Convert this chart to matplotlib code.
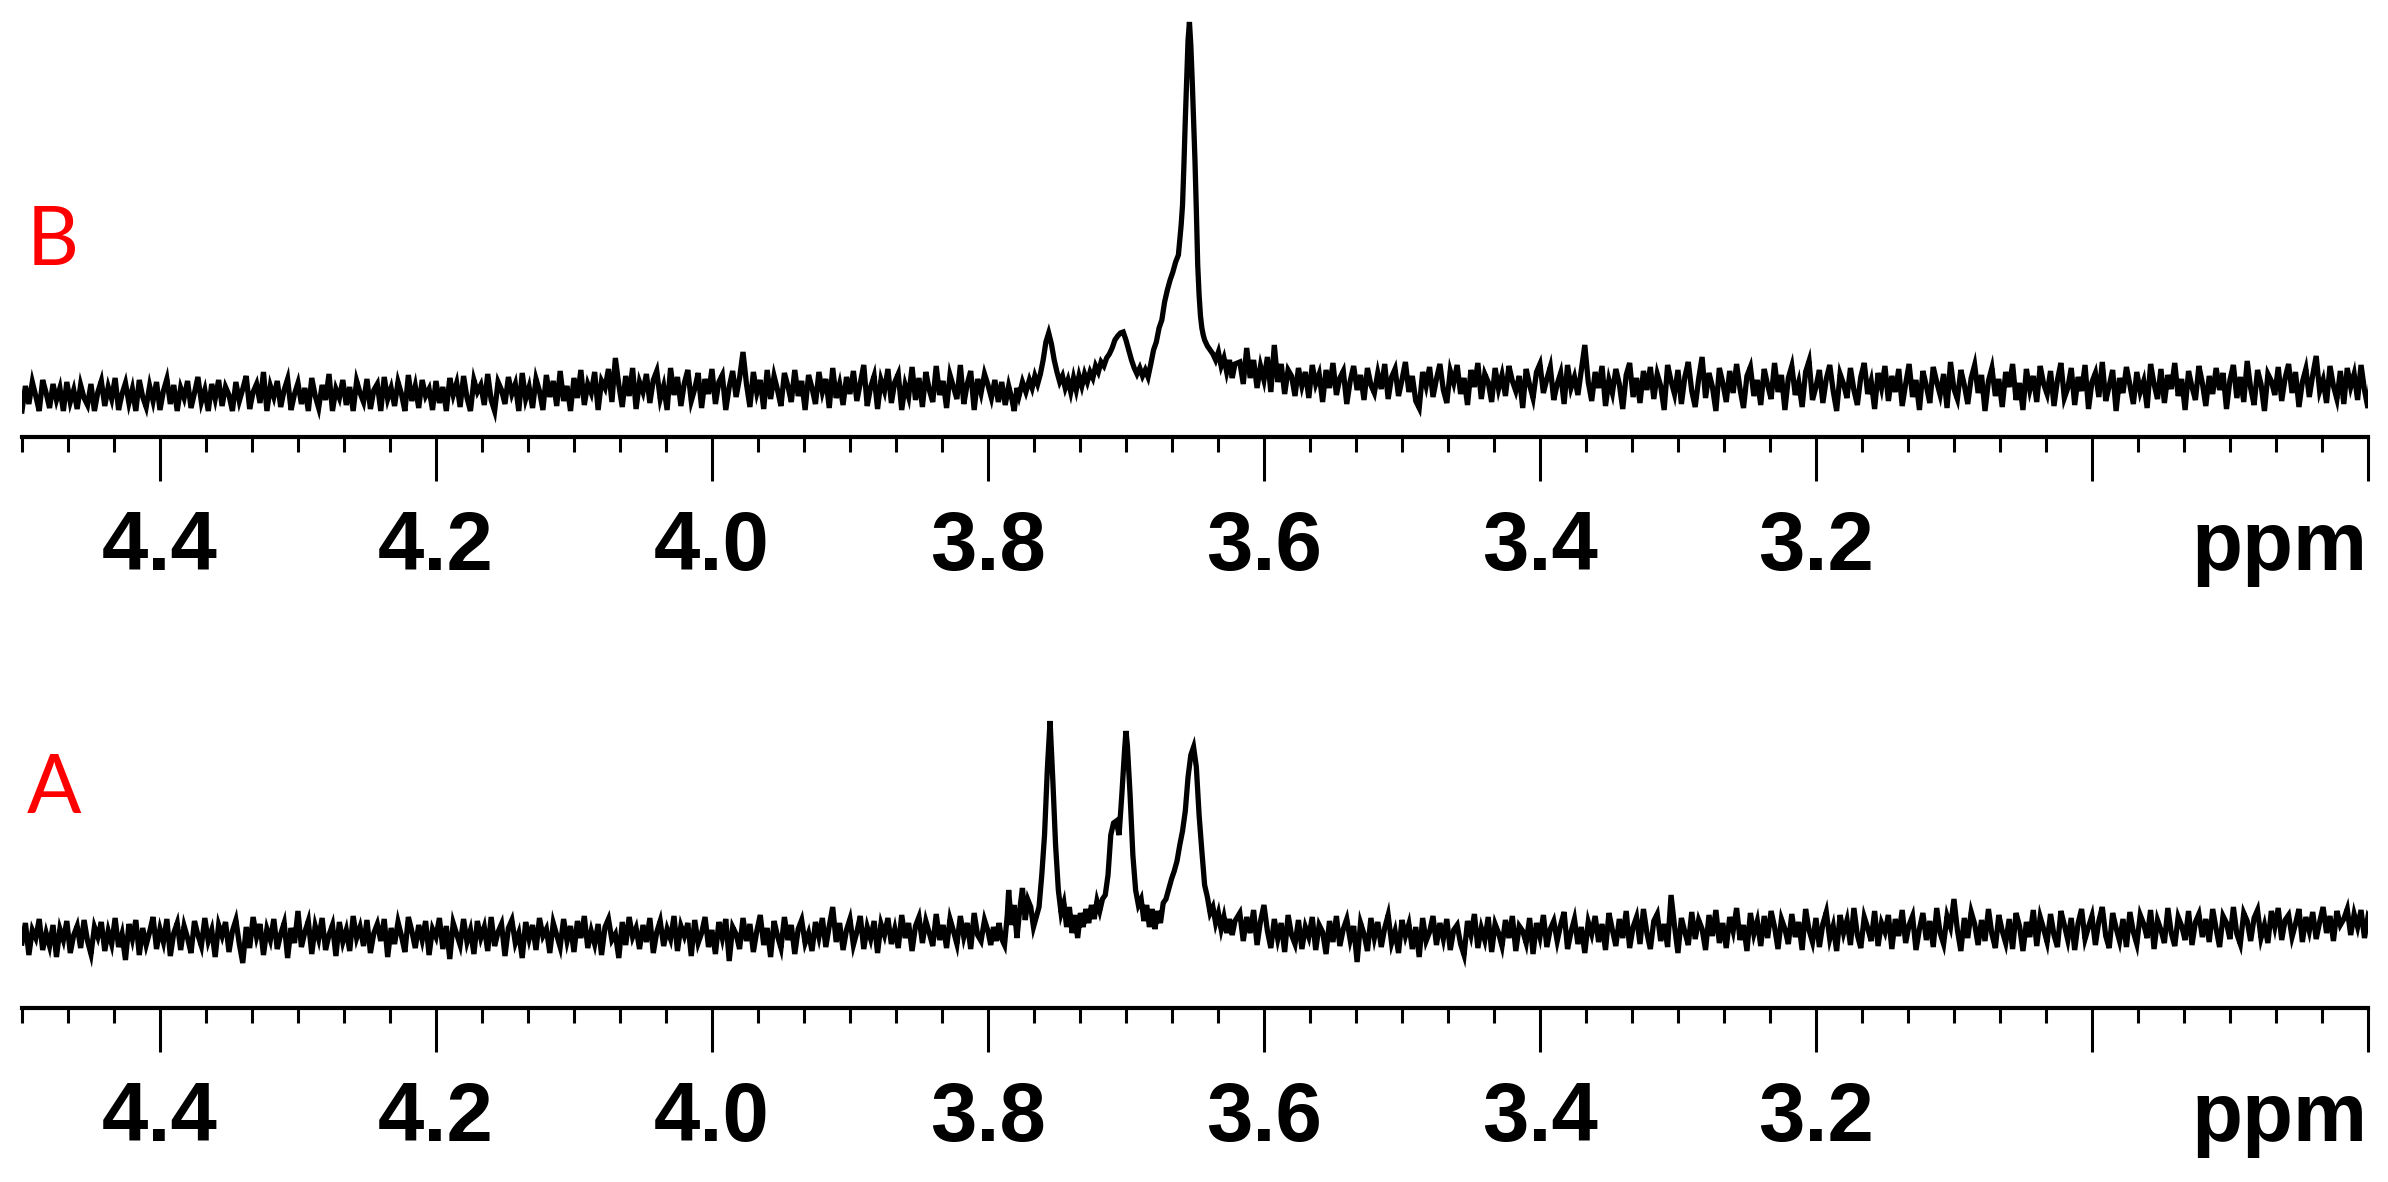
import numpy as np
import matplotlib
matplotlib.use('Agg')
import matplotlib.pyplot as plt

# ---- spectrum B (top), intensity in arbitrary units, baseline ~0 ----
# uniform grid 4.5000 -> 3.8025 ppm, step 0.0025
b_left = [
    -21, 4, -14, 8, -6, -21, 10, -3, -18, 6, -10, 2, -21, 8, -12, 0, -19, 5, -8, -15,
    6, -21, -2, 9, -16, 3, -9, 12, -20, -4, 7, -13, 1, -21, 10, -7, -17, 4, -11, 8,
    -20, -1, 11, -14, 5, -21, 2, -8, 9, -18, -3, 13, -12, 0, -21, 6, -9, 10, -16, 3,
    -5, -21, 8, -11, 1, 14, -19, -2, 6, -13, 18, -21, 4, -7, 9, -17, 0, 11, -20, -4,
    7, -14, 2, -21, 12, -6, -18, 5, -10, 16, -21, 1, -8, 10, -15, 3, -21, 9, -3, -12,
    11, -19, 0, 6, -21, 13, -9, 2, -16, 8, -4, -21, 15, -11, 4, -18, 10, -6, 1, -20,
    9, -13, 3, -21, 12, -5, 7, -17, 14, -8, -21, 10, -2, 5, -15, 16, -10, -21, 8, 0,
    -14, 13, -4, 6, -21, 17, -9, 3, -18, 11, -1, -20, 15, -7, 9, -16, 19, -11, 4, -21,
    12, -8, 20, -15, 6, -3, 18, -20, 9, 2, 21, -12, 32, 5, -17, 14, -6, 22, -19, 8,
    -2, 16, -13, 10, 19, -9, 4, -20, 22, -5, 13, -16, 7, 20, -11, 1, 17, -18, 11, -4,
    21, -14, 8, 15, -20, 3, 19, -7, 12, 38, 6, -17, 18, -3, 10, -19, 20, -9, 14, 0,
    -16, 17, 4, -12, 20, -6, 9, -20, 15, 2, -14, 18, -2, 11, -18, 22, -8, 6, -15, 13,
    -4, 19, -11, 7, 25, -16, 3, 14, -19, 10, -1, 21, -13, 8, 16, -20, 5, -7, 23, -10,
    12, -17, 18, 0, -12, 24, -5, 9, -18, 15, 3, -9, 25, -14, 6, 19, -20, 11, -3, 16,
]
# peak region 3.80 -> 3.62 ppm, (ppm, intensity)
b_peaks = [
    (3.800, 5), (3.7975, -8), (3.795, 10), (3.7925, -12), (3.790, 8), (3.7875, -15),
    (3.785, 4), (3.7825, -10), (3.781, -21), (3.779, 2), (3.7775, -6), (3.775, 8),
    (3.7725, -2), (3.770, 10), (3.768, 2), (3.766, 14), (3.764, 6), (3.762, 16),
    (3.760, 30), (3.758, 48), (3.756, 57), (3.754, 46), (3.752, 30), (3.750, 18),
    (3.748, 8), (3.746, 14), (3.744, 2), (3.742, 10), (3.740, -2), (3.738, 12),
    (3.736, 0), (3.734, 14), (3.732, 4), (3.730, 16), (3.728, 8), (3.726, 18),
    (3.724, 12), (3.722, 24), (3.720, 18), (3.718, 28), (3.716, 24), (3.714, 32),
    (3.712, 36), (3.710, 42), (3.708, 50), (3.706, 54), (3.704, 57), (3.702, 58),
    (3.700, 50), (3.698, 40), (3.696, 30), (3.694, 22), (3.692, 16), (3.690, 22),
    (3.688, 14), (3.686, 20), (3.684, 13), (3.682, 26), (3.680, 40), (3.678, 48),
    (3.676, 62), (3.674, 70), (3.672, 88), (3.670, 100), (3.668, 110), (3.666, 118),
    (3.664, 128), (3.662, 135), (3.661, 150), (3.660, 165), (3.659, 185), (3.658, 225),
    (3.657, 270), (3.656, 310), (3.655, 350), (3.654, 368), (3.653, 345), (3.652, 310),
    (3.651, 270), (3.650, 230), (3.649, 180), (3.648, 125), (3.647, 95), (3.646, 74),
    (3.645, 62), (3.644, 55), (3.643, 50), (3.641, 44), (3.639, 40), (3.637, 36),
    (3.635, 30), (3.633, 38), (3.631, 24), (3.629, 32), (3.627, 18), (3.625, 30),
    (3.623, 12), (3.621, 26),
]
# uniform grid 3.6175 -> 2.7950 ppm, step 0.0025
b_right = [
    28, 6, 42, 12, 30, 2, 24, 10, 33, -2, 45, 8, 26, -4, 20, 14, -6, 22, 4, 18,
    -8, 25, 6, 16, -12, 20, 2, 27, -5, 12, 19, -14, 9, 24, 0, 15, -10, 22, 5, -3,
    17, 1, 26, -9, 13, 21, -6, 10, 28, -2, 14, -11, -18, 18, 4, 23, -7, 11, 26, 0,
    -13, 19, 7, 25, -4, 12, -15, 20, 3, 27, -9, 16, 8, -12, 22, 1, 15, -6, 24, 9,
    -1, 14, -18, 21, 5, -8, 18, 26, -3, 11, 23, -10, 6, 17, -14, 25, 2, 13, -5, 20,
    45, 8, -11, 18, 2, 24, -16, 10, -3, 21, 6, -19, 15, 27, -7, 12, -13, 19, 0, 23,
    -9, 16, 4, -20, 25, 9, -4, 20, -14, 13, 28, -1, -17, 11, 33, -8, 17, 3, -21, 22,
    7, -12, 19, -3, 26, 1, -18, 14, 23, -6, 10, -15, 21, 5, -9, 27, -2, 15, -20, 12,
    24, -5, 8, -17, 18, 29, -10, 3, 20, -13, 11, 25, -1, -21, 16, 6, -8, 22, 0, -15,
    13, 27, -4, 9, -19, 17, 2, 24, -11, 14, -2, 21, -16, 6, 26, -7, 10, -20, 19, 4,
    -13, 23, 8, -5, 16, -18, 28, 1, -9, 20, 5, -14, 12, 25, -3, 15, -21, 9, 22, -6,
    11, -17, 18, 3, 26, -10, 7, -20, 21, 0, 14, -12, 24, 6, -4, 19, -16, 10, 27, -8,
    2, 22, -15, 13, -1, 25, -19, 8, 17, -7, 28, -11, 4, 20, -21, 12, -3, 23, 5, -14,
    18, -2, 9, -18, 26, 6, -9, 21, -13, 15, 1, 27, -6, 11, -20, 19, 3, -10, 24, 7,
    -16, 14, -4, 22, 0, 17, -19, 10, 25, -8, 13, -12, 29, 2, -15, 20, 6, -21, 16, 9,
    -5, 23, -11, 12, 26, -3, 18, -17, 8, 21, -7, 15, 34, -1, 10, -13, 24, 4, -9, 19,
    -14, 22, 3, 16, -10, 25, 0, -18, 13, 7,
]

# ---- spectrum A (bottom) ----
a_left = [
    -8, 12, -20, 5, -3, 16, -15, 2, -11, 10, -22, 6, -5, 14, -18, 0, 9, -13, 15, -6,
    -19, 8, -2, 13, -16, 4, -9, 17, -12, 1, -25, 11, -4, 15, -20, 7, -10, 3, 18, -14,
    6, -7, 16, -21, 2, 12, -15, 9, -3, -18, 14, 0, -11, 17, -6, 5, -22, 10, -1, 13,
    -17, 4, 15, -9, -28, 8, -13, 18, -2, 11, -20, 6, -5, 16, -14, 1, 12, -23, 7, -8,
    24, -12, 3, 14, -19, 9, -4, 17, -15, 0, 10, -21, 13, -7, 5, -16, 19, -3, 8, -11,
    15, -18, 2, 11, -6, 16, -22, 7, -9, 13, -1, -17, 18, 4, -13, 10, -5, 14, -20, 6,
    -2, 17, -14, 9, -24, 12, 1, -10, 16, -7, 5, -19, 14, -3, 8, -16, 18, -11, 3, 11,
    -21, 7, 15, -8, 2, -23, 13, -4, 10, -15, 17, -1, 6, -18, 12, 0, -12, 16, -6, 9,
    -17, 14, -3, 19, -13, 4, -9, 11, -20, 8, 16, -5, 1, -23, 13, -10, 18, -2, 7, -14,
    10, -7, 17, -18, 3, 14, -11, 6, -4, 19, -16, 9, -1, 12, -21, 15, -8, 2, 18, -12,
    5, -19, 13, -3, 16, -26, 8, 1, -14, 17, -6, 11, -17, 4, 20, -10, 7, -22, 14, -1,
    -13, 18, -5, 10, -19, 6, 15, -8, 2, -16, 13, -2, 17, -12, 9, 28, -7, 12, -15, 5,
    16, -10, 3, 19, -14, 8, -4, 14, -18, 11, 0, 17, -9, 6, -13, 20, -3, 12, -16, 9,
    18, -8, 14, 2, -11, 21, -5, 10, -13, 16, 4, -9, 19, -2, 12, -14, 22, 0, -6, 15,
]
a_peaks = [
    (3.800, 4), (3.798, -10), (3.796, 8), (3.794, -6), (3.792, 12), (3.790, -4),
    (3.788, -10), (3.786, 20), (3.785, 45), (3.783, 10), (3.781, 30), (3.779, -3),
    (3.777, 25), (3.775, 47), (3.773, 15), (3.771, 35), (3.769, 28), (3.767, 8),
    (3.765, 18), (3.763, 28), (3.761, 60), (3.759, 100), (3.757, 165), (3.755, 214),
    (3.753, 155), (3.751, 90), (3.749, 45), (3.747, 22), (3.745, 32), (3.743, 8),
    (3.741, 28), (3.739, 2), (3.737, 20), (3.735, -3), (3.733, 22), (3.731, 8),
    (3.729, 26), (3.727, 12), (3.725, 30), (3.723, 16), (3.721, 34), (3.719, 24),
    (3.717, 36), (3.715, 40), (3.713, 60), (3.711, 100), (3.709, 112), (3.707, 114),
    (3.705, 100), (3.703, 140), (3.701, 185), (3.700, 204), (3.699, 190), (3.697, 140),
    (3.695, 80), (3.693, 45), (3.691, 30), (3.689, 36), (3.687, 14), (3.685, 30),
    (3.683, 8), (3.681, 26), (3.679, 6), (3.677, 24), (3.675, 12), (3.673, 32),
    (3.671, 36), (3.669, 46), (3.667, 56), (3.665, 64), (3.663, 74), (3.661, 90),
    (3.659, 104), (3.657, 124), (3.655, 158), (3.653, 180), (3.651, 188), (3.649, 168),
    (3.647, 120), (3.645, 84), (3.643, 50), (3.641, 38), (3.639, 22), (3.637, 28),
    (3.635, 12), (3.633, 22), (3.631, 6), (3.629, 18), (3.627, 2), (3.625, 16),
    (3.623, 0), (3.621, 14),
]
a_right = [
    22, -6, 18, 2, 25, -10, 14, 30, 4, -13, 16, -4, 12, -17, 20, 0, -9, 15, -14, 8,
    -2, 18, -15, 10, 3, -19, 14, -7, 19, -11, 6, 16, -5, 9, -27, 12, 1, -16, 17, -3,
    13, -12, 7, 20, -8, 4, -18, 15, -1, 11, -14, 8, -22, 17, -6, 3, 19, -10, 12, -4,
    16, -15, 5, 10, -9, -20, 14, 0, 21, -13, 7, -5, 18, -17, 11, 2, -11, 15, -3, 19,
    -16, 9, 4, -8, 17, -19, 12, -2, 20, -12, 6, 14, -6, 10, 23, -14, 3, 16, -9, 8,
    -18, 13, 1, 19, -7, 11, -15, 22, 5, -11, 16, -3, 24, -13, 8, 18, -9, 26, 2, -14,
    14, 21, -6, 11, -12, 40, 9, -18, 17, 3, -10, 23, -4, 15, 6, -15, 20, -1, 25, -8,
    12, -13, 18, 4, 27, -5, 10, -16, 22, 1, 14, -11, 19, -3, 24, 8, -14, 16, 6, -9,
    21, -2, 13, -15, 26, 5, -7, 17, -12, 11, 23, -4, 9, -16, 20, 2, 15, -10, 27, 0,
    -13, 18, 7, -6, 24, -11, 12, 3, 20, -14, 16, -1, 25, -8, 10, 19, -15, 6, 22, -5,
    14, -12, 27, 2, -9, 19, 8, 36, 5, -16, 17, -3, 23, 11, -10, 15, -6, 26, 1, -13,
    20, 4, -8, 16, -14, 22, 9, -16, 13, -2, 25, -11, 18, 6, -7, 21, 0, -12, 24, 10,
    -5, 17, -15, 12, 26, -4, 8, 19, -10, 14, 28, -1, -13, 22, 7, -6, 16, -12, 23, 3,
    -9, 20, 11, -3, 25, -14, 15, 5, -8, 27, 2, -11, 18, 9, -5, 24, -10, 13, 21, -2,
    16, -7, 26, 6, -12, 19, 12, -4, 28, 1, -9, 22, 14, -6, 17, 25, -3, 10, -8, 24,
    8, 27, -5, 15, 20, -2, 11, 26, -7, 18, 4, 23, -4, 13, 28, 2, 19, -6, 24, 10,
    16, 26, 0, 21, 8, 25, -3, 18, 12, 27,
]

major_ticks = [4.4, 4.2, 4.0, 3.8, 3.6, 3.4, 3.2, 3.0, 2.8]
major_labels = ['4.4', '4.2', '4.0', '3.8', '3.6', '3.4', '3.2', '', 'ppm']

step = 0.0025
left_start = 4.5
right_start = 3.6175


def build_spectrum(left_vals, peaks, right_vals):
    x_l = left_start - step * np.arange(len(left_vals))
    x_p = np.array([p[0] for p in peaks])
    y_p = np.array([p[1] for p in peaks])
    x_r = right_start - step * np.arange(len(right_vals))
    x = np.concatenate([x_l, x_p, x_r])
    y = np.concatenate([left_vals, y_p, right_vals])
    return x, y


def style_axis(ax):
    for s in ['left', 'right', 'top']:
        ax.spines[s].set_visible(False)
    ax.spines['bottom'].set_linewidth(3.0)
    ax.set_xlim(4.5, 2.8)
    ax.set_yticks([])
    ax.set_xticks(major_ticks)
    ax.set_xticklabels(major_labels, fontsize=60, fontweight='bold',
                       family=['Liberation Sans', 'DejaVu Sans'])
    ax.set_xticks(np.linspace(4.5, 2.8, 52), minor=True)
    ax.tick_params(axis='x', which='major', direction='out', length=31.5,
                   width=2.2, pad=20)
    ax.tick_params(axis='x', which='minor', direction='out', length=10.5,
                   width=2.2)
    ax.get_xticklabels()[-1].set_horizontalalignment('right')
    ax.patch.set_visible(False)


fig = plt.figure(figsize=(23.88, 11.82), dpi=100)

ax_b = fig.add_axes([0.0092, 0.6303, 0.9824, 0.3697])
xb, yb = build_spectrum(b_left, b_peaks, b_right)
ax_b.plot(xb, yb, color='black', lw=3.8, solid_joinstyle='miter')
ax_b.set_ylim(-47, 390)
style_axis(ax_b)

ax_a = fig.add_axes([0.0092, 0.1472, 0.9824, 0.379])
xa, ya = build_spectrum(a_left, a_peaks, a_right)
ax_a.plot(xa, ya, color='black', lw=3.8, solid_joinstyle='miter')
ax_a.set_ylim(-73, 375)
style_axis(ax_a)

fig.text(0.011, 0.795, 'B', color='#ff0000', fontsize=58, family='Lato', va='center')
fig.text(0.011, 0.332, 'A', color='#ff0000', fontsize=58, family='Lato', va='center')

fig.savefig('out.png', dpi=100)
